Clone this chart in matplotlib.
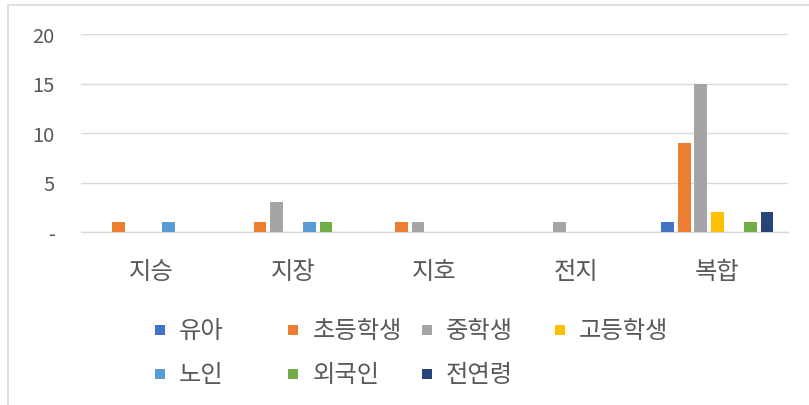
import matplotlib
matplotlib.use("Agg")
import matplotlib.pyplot as plt
import matplotlib.patches as mpatches
import numpy as np

plt.rcParams['font.family'] = ['Noto Sans CJK KR', 'DejaVu Sans']
plt.rcParams['font.weight'] = 'light'

categories = ['지승', '지장', '지호', '전지', '복합']
series = ['유아', '초등학생', '중학생', '고등학생', '노인', '외국인', '전연령']
values = {
    '유아':     [0, 0, 0, 0, 1],
    '초등학생': [1, 1, 1, 0, 9],
    '중학생':   [0, 3, 1, 1, 15],
    '고등학생': [0, 0, 0, 0, 2],
    '노인':     [1, 1, 0, 0, 0],
    '외국인':   [0, 1, 0, 0, 1],
    '전연령':   [0, 0, 0, 0, 2],
}
colors = ['#4472C4', '#ED7D31', '#A5A5A5', '#FFC000', '#5B9BD5', '#70AD47', '#264478']
yticks = [0, 5, 10, 15, 20]
ytick_labels = ['-', '5', '10', '15', '20']

W, H = 809, 406
fig = plt.figure(figsize=(W / 100, H / 100), dpi=100)

# outer chart border (only left/top visible in the crop)
border = mpatches.Rectangle((8 / W, -0.05), 1.1, 1 - 6 / H + 0.05, transform=fig.transFigure,
                            fill=False, ec='#D9D9D9', lw=1.2)
fig.add_artist(border)

ax = fig.add_axes([81 / W, (H - 233) / H, (788 - 81) / W, 198 / H])
x = np.arange(len(categories))
step = 0.117
bw = 0.089
for i, s in enumerate(series):
    v = np.array(values[s], dtype=float)
    ax.bar(x + (i - 3) * step, v, width=bw, color=colors[i], zorder=3)

ax.set_xlim(-0.5, len(categories) - 0.5)
ax.set_ylim(0, 20)
ax.set_yticks(yticks)
ax.set_yticklabels(ytick_labels)
ax.set_xticks(x)
ax.set_xticklabels(categories)
ax.grid(axis='y', color='#D9D9D9', lw=1, zorder=0)
for sp in ['top', 'right', 'left']:
    ax.spines[sp].set_visible(False)
ax.spines['bottom'].set_color('#D9D9D9')
ax.spines['bottom'].set_linewidth(1)
ax.tick_params(axis='y', length=0, pad=19, labelsize=14.5, labelcolor='#595959')
ax.tick_params(axis='x', length=0, pad=19, labelsize=17.5, labelcolor='#595959')

# legend laid out like Excel: equal column widths
col_w = 133.3
for i, s in enumerate(series):
    col, row = i % 4, i // 4
    mx = 155 + col * col_w
    my = 331 + row * 44
    fig.add_artist(mpatches.Rectangle((mx / W, (H - my - 5) / H), 10 / W, 10 / H,
                                      transform=fig.transFigure, color=colors[i], lw=0))
    fig.text((mx + 24) / W, (H - my) / H, s, fontsize=17.5, color='#595959',
             ha='left', va='center')

fig.savefig('out.png', dpi=100)
